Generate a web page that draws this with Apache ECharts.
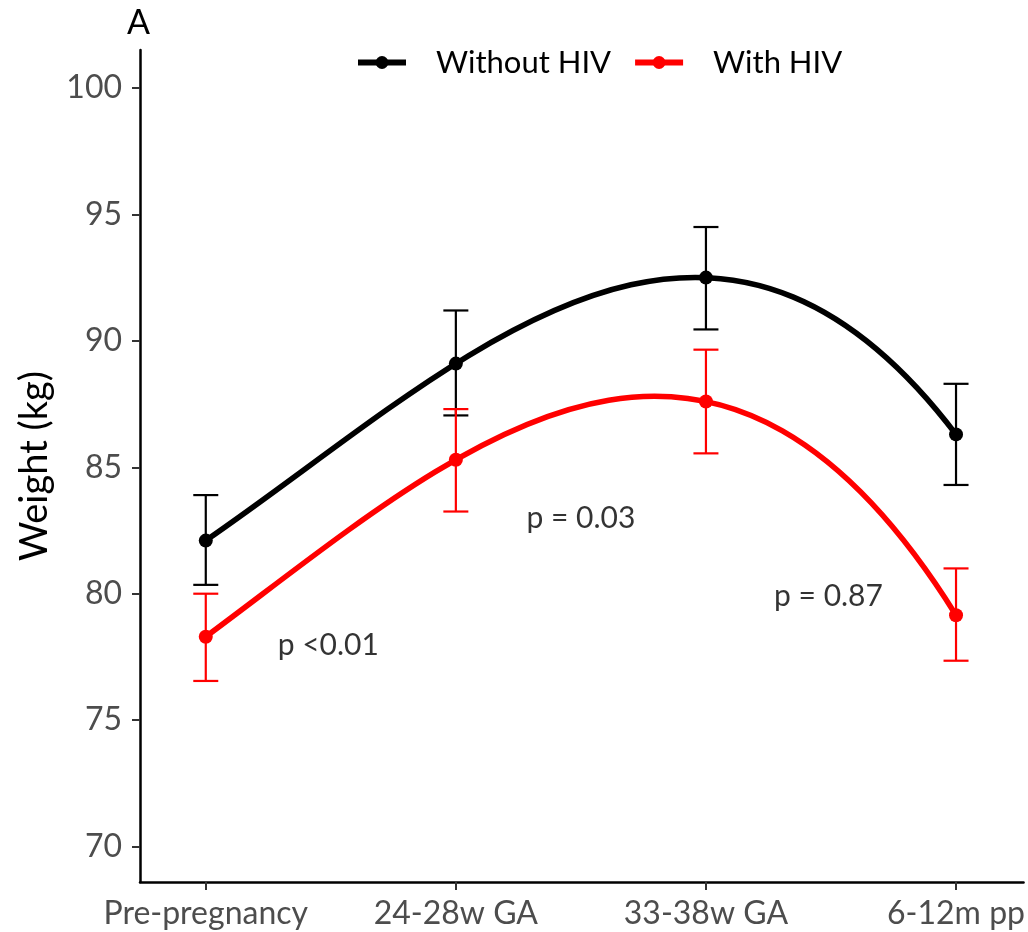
<!DOCTYPE html>
<html>
<head>
<meta charset="utf-8">
<script src="https://cdn.jsdelivr.net/npm/echarts@6/dist/echarts.min.js"></script>
<style>
  html, body { margin: 0; padding: 0; background: #fff; }
  #myChart { width: 1028px; height: 932px; }
</style>
</head>
<body>
<div id="myChart"></div>
<script>
// time points on the x axis (placed at 1..4)
const categories = ['Pre-pregnancy', '24-28w GA', '33-38w GA', '6-12m pp']
const yTicks = [70, 75, 80, 85, 90, 95, 100]

// mean weight (kg) with error bar limits
const withoutHiv = [82.1, 89.1, 92.5, 86.3]
const withoutHivLow = [80.35, 87.05, 90.45, 84.3]
const withoutHivHigh = [83.9, 91.2, 94.5, 88.3]

const withHiv = [78.3, 85.3, 87.6, 79.15]
const withHivLow = [76.55, 83.25, 85.55, 77.35]
const withHivHigh = [80.0, 87.3, 89.65, 81.0]

// p-value annotations: x position, y position, text
const pX = [1.49, 2.5, 3.49]
const pY = [77.95, 83.0, 79.9]
const pText = ['p <0.01', 'p = 0.03', 'p = 0.87']

const font = 'Lato, "Open Sans", sans-serif'

const toPoints = arr => arr.map((v, i) => [i + 1, v])
const toBars = (low, high) => low.map((v, i) => [i + 1, v, high[i]])

function errorBar(color) {
  return function (params, api) {
    const x = api.value(0)
    const top = api.coord([x, api.value(2)])
    const bottom = api.coord([x, api.value(1)])
    const half = 12.5
    const style = { stroke: color, lineWidth: 2.2 }
    return {
      type: 'group',
      children: [
        { type: 'line', shape: { x1: top[0], y1: top[1], x2: bottom[0], y2: bottom[1] }, style },
        { type: 'line', shape: { x1: top[0] - half, y1: top[1], x2: top[0] + half, y2: top[1] }, style },
        { type: 'line', shape: { x1: bottom[0] - half, y1: bottom[1], x2: bottom[0] + half, y2: bottom[1] }, style }
      ]
    }
  }
}

// cubic fit through the 4 means, drawn as one bezier (x is linear in t)
function cubicCurve(values, color) {
  return function (params, api) {
    if (params.dataIndex !== 0) return
    const [y1, y2, y3, y4] = values
    const a = 27 * y2 - 8 * y1 - y4
    const b = 27 * y3 - y1 - 8 * y4
    const c1 = (2 * a - b) / 18
    const c2 = (2 * b - a) / 18
    const p0 = api.coord([1, y1])
    const p1 = api.coord([2, c1])
    const p2 = api.coord([3, c2])
    const p3 = api.coord([4, y4])
    return {
      type: 'bezierCurve',
      shape: {
        x1: p0[0], y1: p0[1],
        cpx1: p1[0], cpy1: p1[1],
        cpx2: p2[0], cpy2: p2[1],
        x2: p3[0], y2: p3[1]
      },
      style: { stroke: color, lineWidth: 5.5, fill: 'none', lineCap: 'round' }
    }
  }
}

const chart = echarts.init(document.getElementById('myChart'))
chart.setOption({
  animation: false,
  backgroundColor: '#fff',
  textStyle: { fontFamily: font },
  graphic: [{
    type: 'text',
    left: 127,
    top: 6,
    style: { text: 'A', fontSize: 34, fontFamily: font, fill: '#000' }
  }],
  legend: {
    left: 350,
    top: 42,
    itemWidth: 48,
    itemHeight: 16,
    itemGap: 21,
    data: [
      { name: 'Without HIV', lineStyle: { opacity: 1, width: 6, color: '#000' } },
      { name: 'With HIV', lineStyle: { opacity: 1, width: 6, color: '#ff0000' } }
    ],
    textStyle: { fontSize: 31, fontFamily: font, color: '#000', padding: [0, 0, 0, 25] }
  },
  grid: { left: 140, right: 0, top: 50, bottom: 50 },
  xAxis: {
    type: 'value',
    min: 0.737,
    max: 4.27,
    splitLine: { show: false },
    axisLine: { show: true, lineStyle: { color: '#000', width: 2.5 } },
    axisTick: { show: true, customValues: [1, 2, 3, 4], length: 8, lineStyle: { color: '#333', width: 2 } },
    axisLabel: {
      customValues: [1, 2, 3, 4],
      formatter: v => categories[Math.round(v) - 1],
      fontSize: 32,
      fontFamily: font,
      color: '#4d4d4d',
      margin: 16
    }
  },
  yAxis: {
    type: 'value',
    min: 68.6,
    max: 101.5,
    name: 'Weight (kg)',
    nameLocation: 'middle',
    nameRotate: 90,
    nameGap: 86,
    nameTextStyle: { fontSize: 38, fontFamily: font, color: '#000' },
    splitLine: { show: false },
    axisLine: { show: true, lineStyle: { color: '#000', width: 2.5 } },
    axisTick: { show: true, customValues: yTicks, length: 8, lineStyle: { color: '#333', width: 2 } },
    axisLabel: {
      customValues: yTicks,
      fontSize: 32,
      fontFamily: font,
      color: '#4d4d4d',
      margin: 18
    }
  },
  series: [
    {
      name: 'Without HIV',
      type: 'line',
      data: toPoints(withoutHiv),
      symbol: 'circle',
      symbolSize: 14,
      itemStyle: { color: '#000' },
      lineStyle: { color: '#000', width: 5, opacity: 0 },
      z: 4
    },
    {
      name: 'With HIV',
      type: 'line',
      data: toPoints(withHiv),
      symbol: 'circle',
      symbolSize: 14,
      itemStyle: { color: '#ff0000' },
      lineStyle: { color: '#ff0000', width: 5, opacity: 0 },
      z: 4
    },
    {
      type: 'custom',
      renderItem: cubicCurve(withoutHiv, '#000'),
      data: toPoints(withoutHiv),
      silent: true,
      z: 3
    },
    {
      type: 'custom',
      renderItem: cubicCurve(withHiv, '#ff0000'),
      data: toPoints(withHiv),
      silent: true,
      z: 3
    },
    {
      type: 'custom',
      renderItem: errorBar('#000'),
      data: toBars(withoutHivLow, withoutHivHigh),
      z: 2
    },
    {
      type: 'custom',
      renderItem: errorBar('#ff0000'),
      data: toBars(withHivLow, withHivHigh),
      z: 2
    },
    {
      type: 'scatter',
      symbolSize: 0,
      data: pX.map((x, i) => [x, pY[i], pText[i]]),
      label: {
        show: true,
        position: 'inside',
        formatter: p => p.data[2],
        fontSize: 30,
        fontFamily: font,
        color: '#000'
      },
      silent: true,
      z: 5
    }
  ]
})
</script>
</body>
</html>
